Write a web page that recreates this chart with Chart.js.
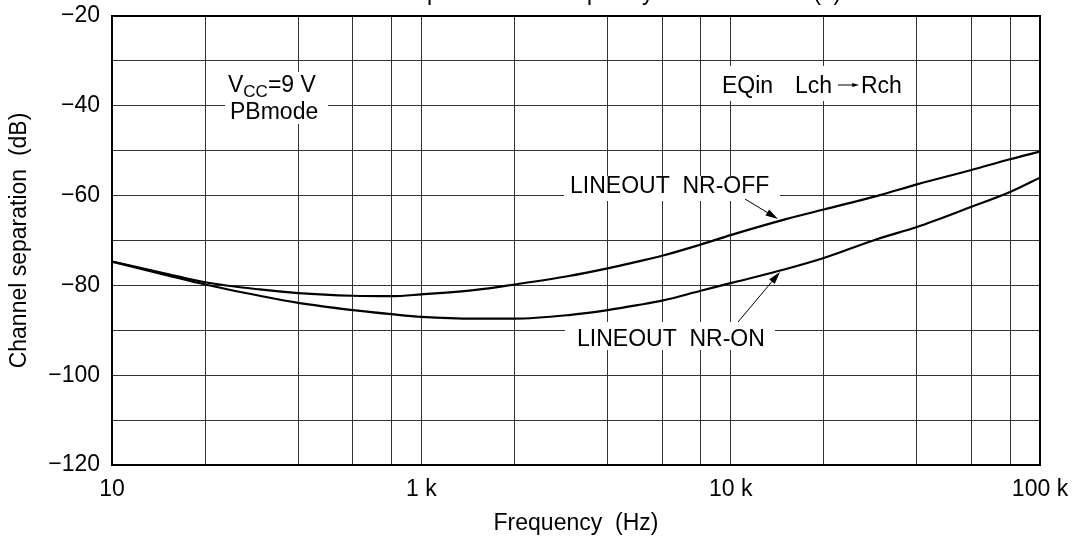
<!DOCTYPE html>
<html>
<head>
<meta charset="utf-8">
<script src="https://cdn.jsdelivr.net/npm/chart.js@4.4.0/dist/chart.umd.min.js"></script>
<style>
  html, body { margin: 0; padding: 0; background: #fff; }
  #wrap { width: 1085px; height: 549px; position: relative; }
</style>
</head>
<body>
<div id="wrap"><canvas id="chart" width="1085" height="549"></canvas></div>
<script>
// values
const freqs = [100, 150, 200, 300, 400, 600, 800, 1000, 1500, 2000, 3000, 4000, 5000, 6000,
               8000, 10000, 15000, 20000, 30000, 40000, 60000, 80000, 100000];
const nrOff = [-74.7, -77.4, -79.3, -80.9, -81.7, -82.3, -82.4, -82.0, -81.0, -79.8, -77.9, -76.2, -74.7, -73.4,
               -70.9, -68.8, -65.3, -63.1, -60.0, -57.5, -54.3, -51.9, -50.2];
const nrOn  = [-74.7, -77.7, -79.8, -82.3, -83.9, -85.5, -86.4, -87.0, -87.4, -87.4, -86.6, -85.5, -84.4, -83.4,
               -81.2, -79.5, -76.4, -73.9, -69.6, -67.0, -62.5, -59.2, -56.0];

// grid / tick positions
const xTickValues = [100, 200, 400, 600, 800, 1000, 2000, 4000, 6000, 8000,
                     10000, 20000, 40000, 60000, 80000, 100000];
const xTickLabels = { 100: '10', 1000: '1 k', 10000: '10 k', 100000: '100 k' };
const yLabelled = [-120, -100, -80, -60, -40, -20];

const FONT = '"Liberation Sans", Arial, Helvetica, sans-serif';
const GRID = '#333';

function pts(vals) {
  return freqs.map((f, i) => ({ x: f, y: vals[i] }));
}

// white-backed text, like the datasheet labels sitting on the grid
function boxText(ctx, box, draw) {
  ctx.save();
  ctx.fillStyle = '#fff';
  ctx.fillRect(box[0], box[1], box[2] - box[0], box[3] - box[1]);
  ctx.fillStyle = '#000';
  draw();
  ctx.restore();
}

function arrow(ctx, x1, y1, x2, y2, head) {
  const a = Math.atan2(y2 - y1, x2 - x1);
  ctx.save();
  ctx.strokeStyle = '#000';
  ctx.fillStyle = '#000';
  ctx.lineWidth = 1;
  ctx.beginPath();
  ctx.moveTo(x1, y1);
  ctx.lineTo(x2 - Math.cos(a) * head * 0.8, y2 - Math.sin(a) * head * 0.8);
  ctx.stroke();
  ctx.beginPath();
  ctx.moveTo(x2, y2);
  ctx.lineTo(x2 - head * Math.cos(a - 0.28), y2 - head * Math.sin(a - 0.28));
  ctx.lineTo(x2 - head * Math.cos(a + 0.28), y2 - head * Math.sin(a + 0.28));
  ctx.closePath();
  ctx.fill();
  ctx.restore();
}

const annotations = {
  id: 'annotations',
  afterDatasetsDraw(chart) {
    const ctx = chart.ctx;
    const area = chart.chartArea;
    ctx.save();
    ctx.textBaseline = 'alphabetic';
    ctx.textAlign = 'left';

    // frame
    ctx.strokeStyle = '#000';
    ctx.lineWidth = 2;
    ctx.strokeRect(area.left, area.top, area.right - area.left, area.bottom - area.top);

    // Vcc / PBmode
    boxText(ctx, [225, 72, 328, 124], () => {
      ctx.font = '23px ' + FONT;
      ctx.fillText('V', 228, 92);
      const w = ctx.measureText('V').width;
      ctx.font = '17px ' + FONT;
      ctx.fillText('CC', 228 + w, 97);
      const w2 = ctx.measureText('CC').width;
      ctx.font = '23px ' + FONT;
      ctx.fillText('=9 V', 228 + w + w2, 92);
      ctx.fillText('PBmode', 230, 119);
    });

    // EQin Lch -> Rch
    boxText(ctx, [716, 66, 906, 101], () => {
      ctx.font = '23px ' + FONT;
      ctx.fillText('EQin', 722, 93);
      ctx.fillText('Lch', 795, 93);
      ctx.fillText('Rch', 861, 93);
    });
    arrow(ctx, 838, 85, 859, 85, 7);

    // curve labels
    boxText(ctx, [564, 176, 780, 201], () => {
      ctx.font = '23px ' + FONT;
      ctx.fillText('LINEOUT  NR-OFF', 570, 193);
    });
    arrow(ctx, 745, 199, 778, 219, 13);

    boxText(ctx, [565, 322, 775, 350], () => {
      ctx.font = '23px ' + FONT;
      ctx.fillText('LINEOUT  NR-ON', 577, 346);
    });
    arrow(ctx, 738, 322, 780, 272, 13);

    // title, mostly cut off by the top edge
    ctx.textAlign = 'center';
    ctx.font = '23px ' + FONT;
    ctx.fillText('Channel separation vs. frequency characteristics (1)', (area.left + area.right) / 2, 0);
    ctx.restore();
  }
};

const chart = new Chart(document.getElementById('chart'), {
  type: 'line',
  data: {
    datasets: [
      {
        label: 'LINEOUT NR-OFF',
        data: pts(nrOff),
        borderColor: '#000',
        borderWidth: 2.2,
        pointRadius: 0,
        cubicInterpolationMode: 'monotone',
        fill: false
      },
      {
        label: 'LINEOUT NR-ON',
        data: pts(nrOn),
        borderColor: '#000',
        borderWidth: 2.2,
        pointRadius: 0,
        cubicInterpolationMode: 'monotone',
        fill: false
      }
    ]
  },
  options: {
    responsive: false,
    animation: false,
    devicePixelRatio: 1,
    layout: { padding: { top: 16, right: 45, left: 0, bottom: 0 } },
    plugins: {
      legend: { display: false },
      tooltip: { enabled: false },
      title: { display: false }
    },
    scales: {
      x: {
        type: 'logarithmic',
        min: 100,
        max: 100000,
        afterBuildTicks: (s) => { s.ticks = xTickValues.map(v => ({ value: v })); },
        afterFit: (s) => { s.height = 84; },
        ticks: {
          autoSkip: false,
          maxRotation: 0,
          padding: 11,
          color: '#000',
          font: { family: FONT, size: 23 },
          callback: (v) => xTickLabels[v] || ''
        },
        grid: { color: GRID, lineWidth: 1, drawTicks: false },
        border: { display: false },
        title: {
          display: true,
          text: 'Frequency  (Hz)',
          color: '#000',
          font: { family: FONT, size: 23 },
          padding: { top: 0, bottom: 12 }
        }
      },
      y: {
        min: -120,
        max: -20,
        afterFit: (s) => { s.width = 112; s.paddingTop = 0; s.paddingBottom = 0; },
        ticks: {
          stepSize: 10,
          padding: 12,
          color: '#000',
          font: { family: FONT, size: 23 },
          callback: (v) => yLabelled.includes(v) ? '\u2212' + Math.abs(v) : ''
        },
        grid: { color: GRID, lineWidth: 1, drawTicks: false },
        border: { display: false },
        title: {
          display: true,
          text: 'Channel separation  (dB)',
          color: '#000',
          font: { family: FONT, size: 23 },
          padding: { top: 6, bottom: 0 }
        }
      }
    }
  },
  plugins: [annotations]
});
</script>
</body>
</html>
